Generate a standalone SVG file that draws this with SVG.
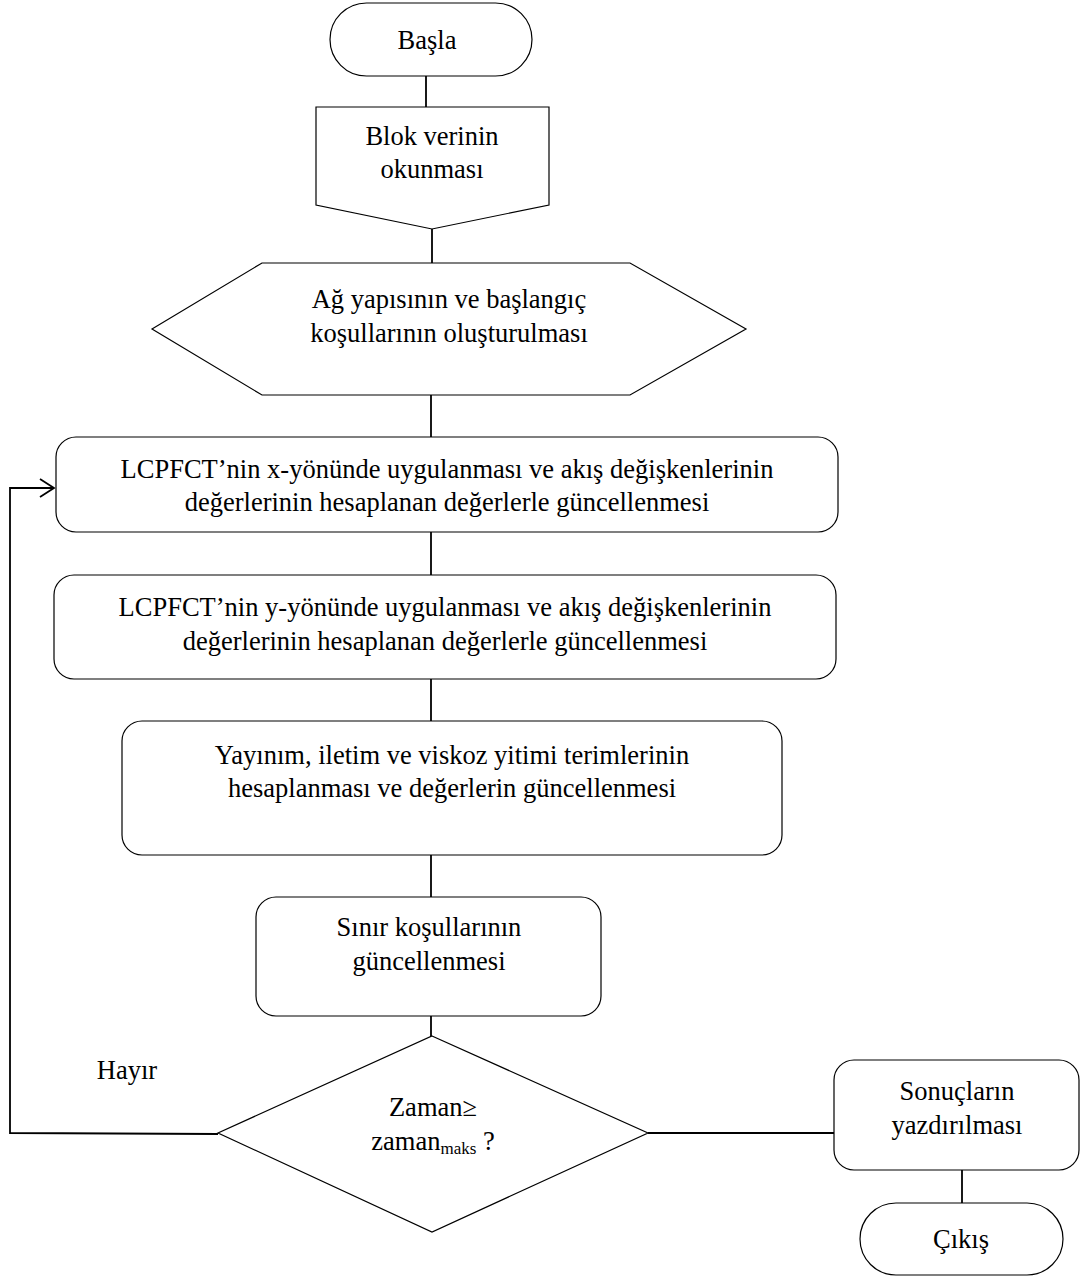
<svg xmlns="http://www.w3.org/2000/svg" width="1086" height="1279" viewBox="0 0 1086 1279">
<style>
.s{fill:#fff;stroke:#000;stroke-width:1.2}
.c{fill:none;stroke:#000;stroke-width:1.8}
text{font-family:"Liberation Serif","Times New Roman",serif;font-size:26.5px;fill:#000;text-anchor:middle}
</style>
<rect width="1086" height="1279" fill="#fff"/>
<g id="connectors">
<line class="c" x1="426" y1="76" x2="426" y2="107"/>
<line class="c" x1="432" y1="229" x2="432" y2="263"/>
<line class="c" x1="431" y1="395" x2="431" y2="437"/>
<line class="c" x1="431" y1="532" x2="431" y2="575"/>
<line class="c" x1="431" y1="679" x2="431" y2="721"/>
<line class="c" x1="431" y1="855" x2="431" y2="897"/>
<line class="c" x1="431" y1="1016" x2="431" y2="1036"/>
<polyline class="c" points="218,1134 10,1133 10,488 54,488"/>
<polyline class="c" points="40,479 54,488 40,497"/>
<line class="c" x1="648" y1="1133" x2="834" y2="1133"/>
<line class="c" x1="962" y1="1170" x2="962" y2="1203"/>
<text x="127" y="1079">Hayır</text>
</g>
<g id="start">
<rect class="s" x="330" y="3" width="202" height="73" rx="36.5"/>
<text x="427" y="49">Başla</text>
</g>
<g id="read">
<polygon class="s" points="316,107 549,107 549,205 432,229 316,205"/>
<text x="432" y="145">Blok verinin</text>
<text x="432" y="178">okunması</text>
</g>
<g id="init">
<polygon class="s" points="152,329 262,263 630,263 746,329 630,395 262,395"/>
<text x="449" y="308">Ağ yapısının ve başlangıç</text>
<text x="449" y="342">koşullarının oluşturulması</text>
</g>
<g id="xdir">
<rect class="s" x="56" y="437" width="782" height="95" rx="20"/>
<text x="447" y="478">LCPFCT’nin x-yönünde uygulanması ve akış değişkenlerinin</text>
<text x="447" y="511">değerlerinin hesaplanan değerlerle güncellenmesi</text>
</g>
<g id="ydir">
<rect class="s" x="54" y="575" width="782" height="104" rx="20"/>
<text x="445" y="616">LCPFCT’nin y-yönünde uygulanması ve akış değişkenlerinin</text>
<text x="445" y="650">değerlerinin hesaplanan değerlerle güncellenmesi</text>
</g>
<g id="diff">
<rect class="s" x="122" y="721" width="660" height="134" rx="20"/>
<text x="452" y="764">Yayınım, iletim ve viskoz yitimi terimlerinin</text>
<text x="452" y="797">hesaplanması ve değerlerin güncellenmesi</text>
</g>
<g id="bc">
<rect class="s" x="256" y="897" width="345" height="119" rx="20"/>
<text x="429" y="936">Sınır koşullarının</text>
<text x="429" y="970">güncellenmesi</text>
</g>
<g id="decision">
<polygon class="s" points="432,1036 648,1133 432,1232 218,1133"/>
<text x="433" y="1116">Zaman≥</text>
<text x="433" y="1150">zaman<tspan font-size="17" dy="4">maks</tspan><tspan dy="-4"> ?</tspan></text>
</g>
<g id="output">
<rect class="s" x="834" y="1060" width="245" height="110" rx="20"/>
<text x="957" y="1100">Sonuçların</text>
<text x="957" y="1134">yazdırılması</text>
</g>
<g id="end">
<rect class="s" x="860" y="1203" width="203" height="72" rx="36"/>
<text x="961" y="1248">Çıkış</text>
</g>
</svg>
